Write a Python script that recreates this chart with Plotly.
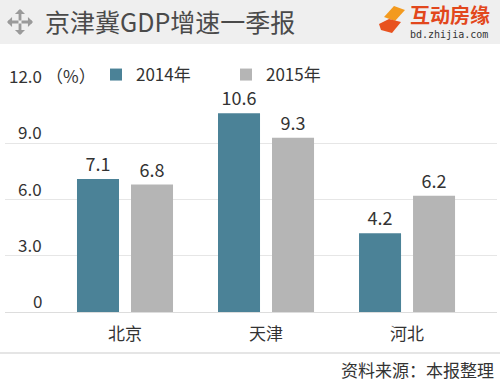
import plotly.graph_objects as go

# ---- data ----
categories = ["北京", "天津", "河北"]
series_names = ["2014年", "2015年"]
values_2014 = [7.1, 10.6, 4.2]
values_2015 = [6.8, 9.3, 6.2]
y_tick_vals = [0, 3, 6, 9, 12]
y_tick_text = ["0", "3.0", "6.0", "9.0", "12.0"]
title_text = "京津冀GDP增速一季报"
unit_text = "（%）"
source_text = "资料来源：本报整理"
logo_text = "互动房缘"
logo_url = "bd.zhijia.com"

W, H = 500, 381
ML, MR, MT, MB = 5, 3, 87, 69
PW = W - ML - MR
PH = H - MT - MB
FONT = "Noto Sans CJK SC, Noto Sans, sans-serif"
C14 = "#4b8297"
C15 = "#b5b5b5"


def px(x):
    return (x - ML) / PW


def py(y):
    return (H - MB - y) / PH


fig = go.Figure()
fig.add_trace(go.Bar(
    x=categories, y=values_2014, name=series_names[0], marker_color=C14,
    text=[f"{v:.1f}" for v in values_2014], textposition="outside",
    textfont=dict(size=18, color="#333333", family=FONT), cliponaxis=False,
    constraintext="none", marker_line_width=0))
fig.add_trace(go.Bar(
    x=categories, y=values_2015, name=series_names[1], marker_color=C15,
    text=[f"{v:.1f}" for v in values_2015], textposition="outside",
    textfont=dict(size=18, color="#333333", family=FONT), cliponaxis=False,
    constraintext="none", marker_line_width=0))

shapes = [
    # title bar
    dict(type="rect", xref="paper", yref="paper", x0=px(0), x1=px(500), y0=py(44), y1=py(0),
         fillcolor="#efefef", line_width=0, layer="below"),
    # bottom separator line
    dict(type="line", xref="paper", yref="paper", x0=px(0), x1=px(500), y0=py(353), y1=py(353),
         line=dict(color="#cccccc", width=1.2)),
    # logo icon pieces
    dict(type="path", xref="paper", yref="paper",
         path=f"M{px(384)},{py(17)} L{px(394)},{py(6)} L{px(405)},{py(10)} L{px(395)},{py(21)} Z",
         fillcolor="#f39a1e", line_width=0),
    dict(type="path", xref="paper", yref="paper",
         path=f"M{px(379)},{py(24)} L{px(389)},{py(19)} L{px(401)},{py(22)} L{px(392)},{py(33)} L{px(381)},{py(30)} Z",
         fillcolor="#e8521f", line_width=0),
]

annotations = []
# y tick labels (right aligned above gridlines)
for v, t in zip(y_tick_vals, y_tick_text):
    annotations.append(dict(x=px(44), y=v, xref="paper", yref="y", text=t, showarrow=False,
                            xanchor="right", yanchor="bottom", yshift=-3,
                            font=dict(size=17, color="#333333", family=FONT)))
annotations.append(dict(x=px(44), y=12, xref="paper", yref="y", text=unit_text, showarrow=False,
                        xanchor="left", yanchor="bottom", yshift=-3,
                        font=dict(size=17, color="#333333", family=FONT)))
# title
annotations.append(dict(x=px(43), y=py(21), xref="paper", yref="paper", text=title_text,
                        showarrow=False, xanchor="left", yanchor="middle",
                        font=dict(size=25, color="#4a4a4a", family=FONT)))
# cross icon with arrows
for (tx, ty) in [(20, 9), (20, 35), (7, 22), (33, 22)]:
    annotations.append(dict(x=px(tx), y=py(ty), xref="paper", yref="paper",
                            ax=20 - tx, ay=22 - ty, axref="pixel", ayref="pixel",
                            text="", showarrow=True, arrowhead=1, arrowsize=0.6,
                            arrowwidth=2.8, arrowcolor="#9a9a9a", standoff=0))
# logo text
annotations.append(dict(x=px(408), y=py(15), xref="paper", yref="paper", text=f"<b>{logo_text}</b>",
                        showarrow=False, xanchor="left", yanchor="middle",
                        font=dict(size=20, color="#e2471c", family=FONT)))
annotations.append(dict(x=px(408), y=py(34), xref="paper", yref="paper", text=logo_url,
                        showarrow=False, xanchor="left", yanchor="middle",
                        font=dict(size=10, color="#333333", family="DejaVu Sans Mono, monospace")))
# source
annotations.append(dict(x=px(496), y=py(369), xref="paper", yref="paper", text=source_text,
                        showarrow=False, xanchor="right", yanchor="middle",
                        font=dict(size=17, color="#333333", family=FONT)))

fig.update_layout(
    width=W, height=H,
    margin=dict(l=ML, r=MR, t=MT, b=MB, pad=0),
    paper_bgcolor="white", plot_bgcolor="white",
    font=dict(family=FONT, color="#333333"),
    barmode="group", bargap=0.234, bargroupgap=0.222,
    showlegend=True,
    legend=dict(orientation="h", x=px(96), y=py(57), xanchor="left", yanchor="top",
                font=dict(size=17, color="#333333", family=FONT),
                entrywidth=85, bgcolor="rgba(0,0,0,0)", borderwidth=0),
    xaxis=dict(range=[-0.851, 2.638], showgrid=False, zeroline=False, showline=False,
               ticks="", tickfont=dict(size=17, color="#333333", family=FONT),
               ticklabelstandoff=10, fixedrange=True),
    yaxis=dict(range=[0, 12], tickvals=y_tick_vals, showticklabels=False,
               showgrid=True, gridcolor="#e6e6e6", gridwidth=1,
               zeroline=True, zerolinecolor="#dddddd", zerolinewidth=1,
               showline=False, ticks="", fixedrange=True),
    shapes=shapes, annotations=annotations,
)

fig.write_html("out.html", config={"displayModeBar": False},
               post_script="document.body.style.margin='0';document.body.style.overflow='hidden';")
